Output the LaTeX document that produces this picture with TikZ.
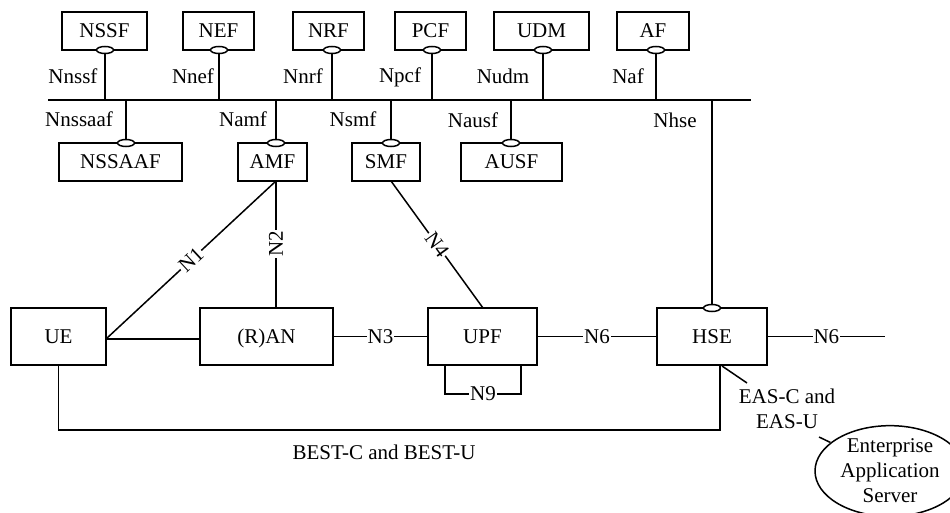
\documentclass[tikz,border=0pt]{standalone}
\usepackage{fontspec}
\setmainfont{Liberation Serif}
\usetikzlibrary{shapes.geometric}
\begin{document}
\begin{tikzpicture}[x=1pt,y=-1pt,line width=1.5pt,
  font=\fontsize{21}{25}\selectfont,
  box/.style={draw,rectangle,inner sep=0pt,minimum width=#1,text height=14pt,text depth=0pt},
  topbox/.style={box=#1,minimum height=38pt},
  midbox/.style={box=#1,minimum height=57pt},
  port/.style={draw,ellipse,fill=white,minimum width=17pt,minimum height=7pt,inner sep=0pt},
  lbl/.style={fill=white,inner sep=1pt},
  txt/.style={inner sep=0pt}]
\useasboundingbox (0,0) rectangle (950,513);
\clip (0,0) rectangle (950,513);

% bus
\coordinate (busL) at (48,100);
\coordinate (busR) at (751,100);
\draw (busL) -- (busR);

% top boxes
\node[topbox=85pt] (nssf) at (104.5,31) {NSSF};
\node[topbox=71pt] (nef) at (218.5,31) {NEF};
\node[topbox=71pt] (nrf) at (328.5,31) {NRF};
\node[topbox=71pt] (pcf) at (430.5,31) {PCF};
\node[topbox=95pt] (udm) at (541.5,31) {UDM};
\node[topbox=72pt] (af) at (653,31) {AF};

% lower boxes
\node[topbox=123pt] (nssaaf) at (120.5,162) {NSSAAF};
\node[topbox=69pt] (amf) at (272.5,162) {AMF};
\node[topbox=68pt] (smf) at (386,162) {SMF};
\node[topbox=101pt] (ausf) at (511.5,162) {AUSF};

% middle row
\node[midbox=95pt] (ue) at (58.5,336.5) {UE};
\node[midbox=133pt] (ran) at (266.5,336.5) {(R)AN};
\node[midbox=109pt] (upf) at (482.5,336.5) {UPF};
\node[midbox=110pt] (hse) at (712,336.5) {HSE};

% service-based interface stems (top)
\foreach \n/\x in {nssf/105,nef/219,nrf/332,pcf/432,udm/543,af/656}{
  \node[port] (p\n) at (\x,50) {};
  \coordinate (b\n) at (\x,100);
  \draw (p\n) -- (b\n);
}
% stems (bottom)
\foreach \n/\x in {nssaaf/126,amf/276,smf/391,ausf/511}{
  \node[port] (p\n) at (\x,143) {};
  \coordinate (b\n) at (\x,100);
  \draw (b\n) -- (p\n);
}
\node[port] (phse) at (712,308) {};
\coordinate (bhse) at (712,100);
\draw (bhse) -- (phse);

% interface labels
\node[txt] (l1) at (73,76) {Nnssf};
\node[txt] (l2) at (193,76) {Nnef};
\node[txt] (l3) at (303,76) {Nnrf};
\node[txt] (l4) at (400,77) {Npcf};
\node[txt] (l5) at (503,76) {Nudm};
\node[txt] (l6) at (628,76) {Naf};
\node[txt] (l7) at (79,119) {Nnssaaf};
\node[txt] (l8) at (243,119) {Namf};
\node[txt] (l9) at (353,119) {Nsmf};
\node[txt] (l10) at (473,120) {Nausf};
\node[txt] (l11) at (675,120) {Nhse};

% reference points
\coordinate (amfb) at (276,181);
\coordinate (smfb) at (391,181);
\coordinate (upft) at (483,308);
\coordinate (uer) at (106,339);
\draw (uer) -- node[lbl,sloped] {N1} (amfb);
\draw (amfb) -- node[lbl,rotate=90] {N2} (amfb |- ran.north);
\draw (uer) -- (uer -| ran.west);
\draw (smfb) -- node[lbl,sloped] {N4} (upft);
\draw (ran.east) -- node[lbl] {N3} (upf.west);
\draw (upf.east) -- node[lbl] {N6} (hse.west);
\coordinate (n6end) at (885,336.5);
\draw (hse.east) -- node[lbl] {N6} (n6end);

% N9 loop
\coordinate (n9a) at (445,365);
\coordinate (n9b) at (521,365);
\draw (n9a) -- ++(0,29) -| node[lbl,pos=0.25] {N9} (n9b);

% BEST loop
\coordinate (hseb) at (720,365);
\draw (ue.south) -- ++(0,64) -| (hseb);
\node[txt] (best) at (384,452) {BEST-C and BEST-U};

% EAS
\node[txt,align=center] (eas) at (787,409) {EAS-C and\\EAS-U};
\coordinate (easA) at (722,366);
\coordinate (easB) at (747,383);
\draw (easA) -- (easB);
\node[draw,ellipse,minimum width=150pt,minimum height=86pt,inner sep=0pt,align=center] (srv) at (890,471) {Enterprise\\Application\\Server};
\coordinate (et) at (819,437);
\draw (et) -- (srv);
\end{tikzpicture}
\end{document}
